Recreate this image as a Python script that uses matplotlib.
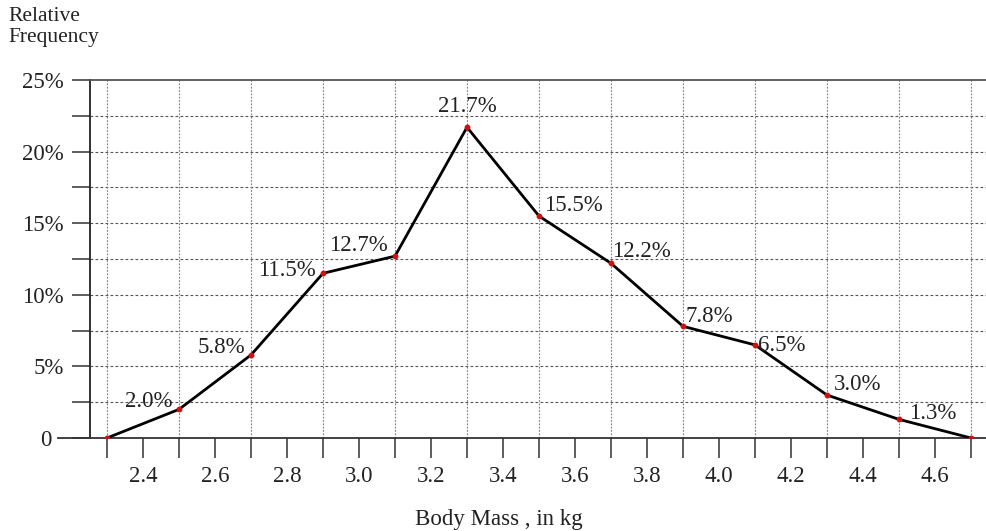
import matplotlib
matplotlib.use("Agg")
import matplotlib.pyplot as plt
from matplotlib.ticker import MultipleLocator, FixedLocator

# Data
body_mass = [2.3, 2.5, 2.7, 2.9, 3.1, 3.3, 3.5, 3.7, 3.9, 4.1, 4.3, 4.5, 4.7]
rel_freq = [0.0, 2.0, 5.8, 11.5, 12.7, 21.7, 15.5, 12.2, 7.8, 6.5, 3.0, 1.3, 0.0]
point_labels = ["", "2.0%", "5.8%", "11.5%", "12.7%", "21.7%", "15.5%",
                "12.2%", "7.8%", "6.5%", "3.0%", "1.3%", ""]
x_tick_labels = ["2.4", "2.6", "2.8", "3.0", "3.2", "3.4", "3.6", "3.8",
                 "4.0", "4.2", "4.4", "4.6"]
y_tick_labels = ["0", "5%", "10%", "15%", "20%", "25%"]

# label placement (offset in pixels, alignment)
label_offsets = [(0, 0, "center"), (-7, 8, "right"), (-6, 7, "right"),
                 (-7, 3, "right"), (-7, 11, "right"), (0, 21, "center"),
                 (5, 11, "left"), (1, 12, "left"), (3, 10, "left"),
                 (3, -1, "left"), (7, 11, "left"), (10, 6, "left"),
                 (0, 0, "center")]

plt.rcParams["font.family"] = ["Liberation Serif", "DejaVu Serif"]
FS = 16.5
W, H = 987, 531
fig = plt.figure(figsize=(W / 100, H / 100), dpi=100)
ax = fig.add_axes([90 / W, (H - 438) / H, (W - 90) / W, 358 / H])

ax.set_xlim(2.3 - 17 / 360, 2.3 + 880 / 360)
ax.set_ylim(0, 25)

ax.plot(body_mass, rel_freq, color="black", lw=2.0, zorder=4,
        solid_joinstyle="round")
ax.plot(body_mass, rel_freq, linestyle="none", marker="o", ms=3.2,
        color="#d01010", mec="#d01010", zorder=5)

for x, y, lab, (dx, dy, ha) in zip(body_mass, rel_freq, point_labels, label_offsets):
    if lab:
        ax.annotate(lab, (x, y), xytext=(dx * 0.72, dy * 0.72),
                    textcoords="offset points", ha=ha, va="center",
                    fontsize=FS, color="#222222", zorder=6)

# x axis ticks
major_x = [float(s) for s in x_tick_labels]
ax.xaxis.set_major_locator(FixedLocator(major_x))
ax.xaxis.set_minor_locator(FixedLocator(body_mass))
ax.set_xticklabels(x_tick_labels)
ax.tick_params(axis="x", which="both", direction="out", length=14.4,
               width=1.1, color="#333333", pad=6, labelsize=FS,
               labelcolor="#222222")

# y axis ticks
ax.yaxis.set_minor_locator(MultipleLocator(2.5))
ax.set_yticks([0, 5, 10, 15, 20, 25])
ax.set_yticklabels(y_tick_labels)
ax.tick_params(axis="y", which="both", direction="out", length=13,
               width=1.1, color="#333333", pad=6, labelsize=FS,
               labelcolor="#222222")
ax.yaxis.get_major_ticks()[0].set_pad(14.5)
# x-axis line extends further left than the ticks
ax.plot([-32 / 897, 0], [0, 0], transform=ax.get_yaxis_transform(),
        color="#333333", lw=1.3, clip_on=False, zorder=3)

# grids
for yv in [2.5 * i for i in range(1, 10)]:
    ax.axhline(yv, color="#555555", lw=0.8, ls=(0, (2.5, 2.0)), zorder=1)
for xv in body_mass:
    ax.axvline(xv, color="#777777", lw=0.8, ls=(0, (1.5, 1.5)), zorder=1)

ax.spines["right"].set_visible(False)
ax.spines["top"].set_color("#555555")
ax.spines["top"].set_linewidth(1.3)
ax.spines["left"].set_color("#222222")
ax.spines["left"].set_linewidth(1.3)
ax.spines["bottom"].set_color("#333333")
ax.spines["bottom"].set_linewidth(1.3)

fig.text(8 / W, 1 - 7 / H, "Relative\nFrequency", ha="left", va="top",
         fontsize=15.5, color="#222222", linespacing=1.15)
fig.text(499 / W, (H - 519) / H, "Body Mass , in kg", ha="center",
         va="center", fontsize=FS, color="#222222")

fig.savefig("out.png", dpi=100)
